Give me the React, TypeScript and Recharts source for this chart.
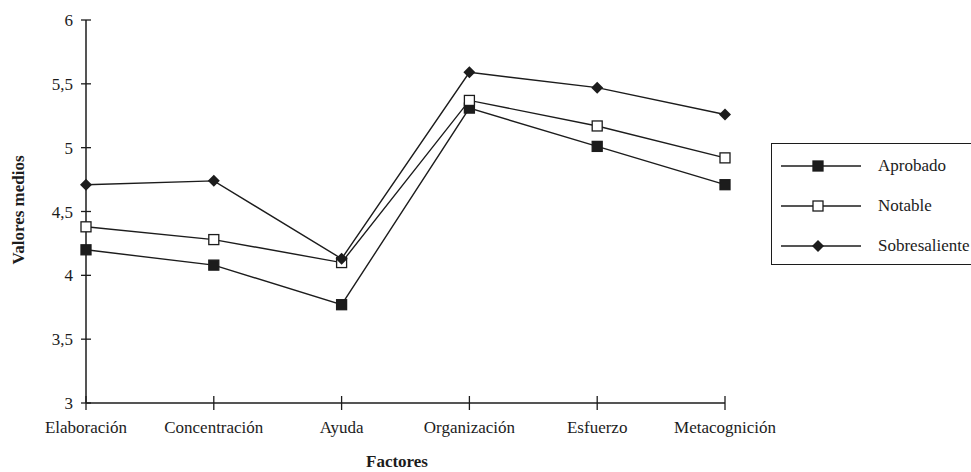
import React from "react"
import { LineChart, Line, XAxis, YAxis } from "recharts"

const factores = ["Elaboración", "Concentración", "Ayuda", "Organización", "Esfuerzo", "Metacognición"]
const aprobado = [4.2, 4.08, 3.77, 5.31, 5.01, 4.71]
const notable = [4.38, 4.28, 4.1, 5.37, 5.17, 4.92]
const sobresaliente = [4.71, 4.74, 4.13, 5.59, 5.47, 5.26]
const yTicks = [3, 3.5, 4, 4.5, 5, 5.5, 6]

const data = factores.map((f, i) => ({
  factor: f,
  aprobado: aprobado[i],
  notable: notable[i],
  sobresaliente: sobresaliente[i],
}))

const INK = "#1c1c1c"
const FONT = '"Liberation Serif", "DejaVu Serif", serif'

type Shape = "square" | "open" | "diamond"

function Marker({ cx, cy, shape }: { cx: number; cy: number; shape: Shape }) {
  if (shape === "diamond") {
    const r = 6
    return <polygon points={`${cx},${cy - r} ${cx + r},${cy} ${cx},${cy + r} ${cx - r},${cy}`} fill={INK} />
  }
  const s = 10
  return (
    <rect
      x={cx - s / 2}
      y={cy - s / 2}
      width={s}
      height={s}
      fill={shape === "open" ? "#fff" : INK}
      stroke={INK}
      strokeWidth={1.3}
    />
  )
}

const series: { key: string; name: string; shape: Shape }[] = [
  { key: "aprobado", name: "Aprobado", shape: "square" },
  { key: "notable", name: "Notable", shape: "open" },
  { key: "sobresaliente", name: "Sobresaliente", shape: "diamond" },
]

function YTick({ x, y, payload }: any) {
  return (
    <g>
      <line x1={x - 5} x2={x + 5} y1={y} y2={y} stroke={INK} strokeWidth={1.3} />
      <text x={x - 13} y={y + 6} textAnchor="end" fontSize={17} style={{ fontFamily: FONT }} fill={INK}>
        {String(payload.value).replace(".", ",")}
      </text>
    </g>
  )
}

function XTick({ x, y, payload }: any) {
  return (
    <g>
      <line x1={x} x2={x} y1={y - 7} y2={y + 7} stroke={INK} strokeWidth={1.3} />
      <text x={x} y={y + 30} textAnchor="middle" fontSize={17} style={{ fontFamily: FONT }} fill={INK}>
        {payload.value}
      </text>
    </g>
  )
}

export default function App() {
  return (
    <div style={{ position: "absolute", left: 0, top: 0, width: 971, height: 472, background: "#fff", overflow: "hidden", fontFamily: FONT }}>
      <LineChart width={971} height={472} data={data} margin={{ top: 20, right: 246, left: 0, bottom: 0 }}>
        <XAxis
          dataKey="factor"
          height={69}
          padding={{ left: 0, right: 0 }}
          tickSize={0}
          tickMargin={0}
          tickLine={false}
          axisLine={{ stroke: INK, strokeWidth: 1.5 }}
          tick={<XTick />}
          interval={0}
        />
        <YAxis
          width={86}
          domain={[3, 6]}
          ticks={yTicks}
          tickSize={0}
          tickMargin={0}
          tickLine={false}
          axisLine={{ stroke: INK, strokeWidth: 1.5 }}
          tick={<YTick />}
        />
        {series.map((s) => (
          <Line
            key={s.key}
            type="linear"
            dataKey={s.key}
            name={s.name}
            stroke={INK}
            strokeWidth={1.4}
            isAnimationActive={false}
            dot={(p: any) => <Marker key={`${s.key}-${p.index}`} cx={p.cx} cy={p.cy} shape={s.shape} />}
          />
        ))}
      </LineChart>
      <div
        style={{
          position: "absolute",
          left: 19,
          top: 210,
          transform: "translate(-50%, -50%) rotate(-90deg)",
          fontWeight: "bold",
          fontSize: 17,
          color: INK,
          whiteSpace: "nowrap",
        }}
      >
        Valores medios
      </div>
      <div
        style={{
          position: "absolute",
          left: 397,
          top: 452,
          transform: "translateX(-50%)",
          fontWeight: "bold",
          fontSize: 17,
          color: INK,
          whiteSpace: "nowrap",
        }}
      >
        Factores
      </div>
      <div
        style={{
          position: "absolute",
          left: 771,
          top: 143,
          width: 220,
          height: 120,
          borderTop: `1.5px solid ${INK}`,
          borderLeft: `1.5px solid ${INK}`,
          borderBottom: `1.5px solid ${INK}`,
        }}
      >
        {series.map((s, i) => (
          <div key={s.key} style={{ position: "absolute", left: 0, top: 10 + i * 40, height: 24, display: "flex", alignItems: "center" }}>
            <svg width={100} height={24} style={{ display: "block" }}>
              <line x1={9} x2={89} y1={12} y2={12} stroke={INK} strokeWidth={1.4} />
              <Marker cx={46} cy={12} shape={s.shape} />
            </svg>
            <span style={{ fontSize: 17, color: INK, marginLeft: 6, whiteSpace: "nowrap" }}>{s.name}</span>
          </div>
        ))}
      </div>
    </div>
  )
}
